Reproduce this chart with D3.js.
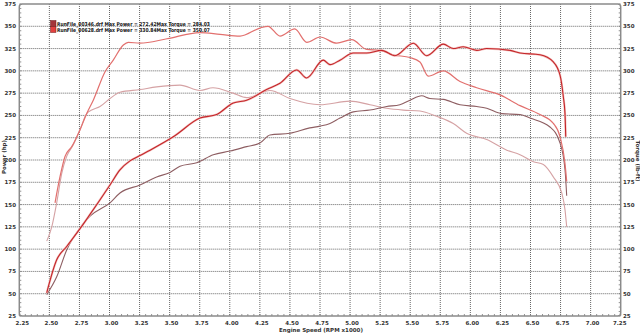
<!DOCTYPE html>
<html>
<head>
<meta charset="utf-8">
<script src="https://cdn.jsdelivr.net/npm/d3@7"></script>
<style>
  body { margin: 0; background: #fff; }
  svg { display: block; }
  text { font-family: "DejaVu Sans", Verdana, sans-serif; font-weight: bold; fill: #333; }
</style>
</head>
<body>
<svg id="chart" width="640" height="333"></svg>
<script>
// run 00628 (red)
var rpm628P = [2.478,2.561,2.644,2.755,2.838,3.004,3.087,3.17,3.253,3.337,3.53,3.752,3.891,4.029,4.14,4.306,4.417,4.556,4.639,4.777,4.833,4.916,5.027,5.138,5.263,5.373,5.526,5.637,5.775,5.858,5.941,6.053,6.136,6.33,6.413,6.579,6.69,6.746,6.773,6.787,6.793];
var power628 = [51,88,103,123,139,172,189,199,205,211,226,247,251,264,267,279,286,301,292,312,307,312,320,320,323,317,331,317,330,325,327,323,325,323,320,318,310,295,271,252,226];
var rpm628T = [2.547,2.588,2.63,2.686,2.755,2.81,2.865,2.963,3.031,3.115,3.156,3.253,3.478,3.752,3.919,4.085,4.25,4.318,4.418,4.54,4.64,4.75,4.889,5.014,5.138,5.249,5.357,5.498,5.581,5.65,5.775,5.914,6.053,6.247,6.413,6.579,6.69,6.746,6.787,6.801];
var torque628 = [152,181,204,215,234,252,267,299,312,329,332,331,336,343,341,339,348,350,339,347,332,338,331,335,324,323,318,315,310,294,300,288,281,273,261,251,241,226,196,176];

// run 00346 (mauve)
var rpm346P = [2.478,2.561,2.644,2.755,2.838,3.004,3.087,3.253,3.392,3.503,3.586,3.725,3.863,4.002,4.14,4.25,4.334,4.5,4.665,4.75,4.833,4.916,5.027,5.165,5.304,5.414,5.498,5.595,5.664,5.775,5.914,6.053,6.136,6.261,6.413,6.496,6.662,6.746,6.787,6.801];
var power346 = [49,69,99,124,137,152,163,172,181,186,193,197,206,210,215,219,228,230,236,238,241,247,254,256,260,262,267,272,269,268,262,260,258,252,251,247,237,219,189,160];
var rpm346T = [2.478,2.52,2.561,2.603,2.644,2.699,2.755,2.81,2.852,2.921,3.004,3.087,3.253,3.392,3.586,3.752,3.86,4.027,4.14,4.334,4.5,4.75,5.0,5.165,5.304,5.443,5.581,5.72,5.858,5.969,6.136,6.303,6.413,6.524,6.607,6.69,6.76,6.787,6.801];
var torque346 = [109,125,152,185,204,217,234,252,256,260,269,276,279,282,284,278,281,275,270,278,269,262,266,262,258,256,255,249,241,230,223,211,206,198,195,181,163,144,125];

var xTicks = [2.25,2.5,2.75,3.0,3.25,3.5,3.75,4.0,4.25,4.5,4.75,5.0,5.25,5.5,5.75,6.0,6.25,6.5,6.75,7.0,7.25];
var yTicks = [25,50,75,100,125,150,175,200,225,250,275,300,325,350,375];
var legendLabels = ["RunFile_00346.drf Max Power = 272.42Max Torque = 284.03",
                    "RunFile_00628.drf Max Power = 330.84Max Torque = 350.07"];

var svg = d3.select("#chart");
var plotL = 19.3, plotR = 620.7, plotT = 4, plotB = 316;

var x = d3.scaleLinear().domain([2.25, 7.25]).range([plotL, plotR]);
var y = d3.scaleLinear().domain([25, 375]).range([plotB, plotT]);

// grid
svg.append("g").selectAll("line").data(xTicks.slice(1, -1)).enter().append("line")
    .attr("x1", d => x(d)).attr("x2", d => x(d))
    .attr("y1", plotT).attr("y2", plotB)
    .attr("stroke", "#666").attr("stroke-width", 1).attr("stroke-dasharray", "1,1");
svg.append("g").selectAll("line").data(yTicks.slice(1, -1)).enter().append("line")
    .attr("y1", d => y(d)).attr("y2", d => y(d))
    .attr("x1", plotL).attr("x2", plotR)
    .attr("stroke", "#666").attr("stroke-width", 1).attr("stroke-dasharray", "1,1");

// minor ticks
var minorX = d3.range(2.25, 7.2501, 0.05);
svg.append("g").selectAll("line").data(minorX).enter().append("line")
    .attr("x1", d => x(d)).attr("x2", d => x(d))
    .attr("y1", plotB).attr("y2", plotB - 2)
    .attr("stroke", "#777").attr("stroke-width", 0.8);
var minorY = d3.range(25, 375.01, 5);
svg.append("g").selectAll("line").data(minorY).enter().append("line")
    .attr("y1", d => y(d)).attr("y2", d => y(d))
    .attr("x1", plotL).attr("x2", plotL + 2)
    .attr("stroke", "#777").attr("stroke-width", 0.8);
svg.append("g").selectAll("line").data(minorY).enter().append("line")
    .attr("y1", d => y(d)).attr("y2", d => y(d))
    .attr("x1", plotR).attr("x2", plotR - 2)
    .attr("stroke", "#777").attr("stroke-width", 0.8);

// frame
svg.append("rect")
    .attr("x", plotL).attr("y", plotT)
    .attr("width", plotR - plotL).attr("height", plotB - plotT)
    .attr("rx", 3).attr("fill", "none")
    .attr("stroke", "#8a8a8a").attr("stroke-width", 1.5);

// tick labels
svg.append("g").selectAll("text").data(yTicks).enter().append("text")
    .attr("x", 16).attr("y", d => y(d) + 2)
    .attr("text-anchor", "end").attr("font-size", 5.5)
    .text(d => d);
svg.append("g").selectAll("text").data(yTicks).enter().append("text")
    .attr("x", 623).attr("y", d => y(d) + 2)
    .attr("font-size", 5.5)
    .text(d => d);
svg.append("g").selectAll("text").data(xTicks).enter().append("text")
    .attr("x", d => x(d) + (d == 2.25 ? 3 : (d == 7.25 ? -1 : 2)))
    .attr("y", 324.5)
    .attr("text-anchor", "middle").attr("font-size", 5.5)
    .text(d => d.toFixed(2));

// axis titles
svg.append("text").attr("x", 321).attr("y", 332)
    .attr("text-anchor", "middle").attr("font-size", 5.5)
    .text("Engine Speed (RPM x1000)");
svg.append("text").attr("transform", "translate(6,157) rotate(-90)")
    .attr("text-anchor", "middle").attr("font-size", 5.5)
    .text("Power (hp)");
svg.append("text").attr("transform", "translate(635.5,161) rotate(90)")
    .attr("text-anchor", "middle").attr("font-size", 5.5)
    .text("Torque (lb-ft)");

// curves
var line = d3.line()
    .x(d => x(d[0]))
    .y(d => y(d[1]))
    .curve(d3.curveMonotoneX);

function drawRun(rpms, vals, color, w) {
    svg.append("path")
        .datum(d3.zip(rpms, vals))
        .attr("d", line)
        .attr("fill", "none")
        .attr("stroke", color)
        .attr("stroke-width", w)
        .attr("stroke-linejoin", "round");
}

drawRun(rpm346T, torque346, "#d5a2a4", 1.1);
drawRun(rpm346P, power346, "#8e5e62", 1.1);
drawRun(rpm628T, torque628, "#e2706e", 1.2);
drawRun(rpm628P, power628, "#f4c0be", 2.2);
drawRun(rpm628P, power628, "#c3262a", 1.1);

// legend
var legendColors = ["#a3343a", "#e2403f"];
var lg = svg.append("g");
lg.selectAll("rect").data(legendLabels).enter().append("rect")
    .attr("x", 50.5).attr("y", (d, i) => 20.5 + i * 6)
    .attr("width", 5.5).attr("height", 6)
    .attr("fill", (d, i) => legendColors[i])
    .attr("stroke", "#6a1a1a").attr("stroke-width", 0.5);
lg.selectAll("text").data(legendLabels).enter().append("text")
    .attr("x", 57).attr("y", (d, i) => 25.5 + i * 6)
    .attr("font-size", 5.3)
    .attr("textLength", 153).attr("lengthAdjust", "spacingAndGlyphs")
    .style("fill", "#111")
    .text(d => d);
</script>
</body>
</html>
